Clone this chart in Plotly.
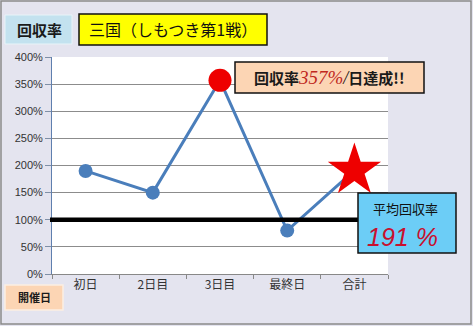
import plotly.graph_objects as go

# Recovery rate per race day (%)
days = ["初日", "2日目", "3日目", "最終日", "合計"]
rates = [190, 150, 357, 80, 191]
y_ticks = [0, 50, 100, 150, 200, 250, 300, 350, 400]
y_tick_text = ["0%", "50%", "100%", "150%", "200%", "250%", "300%", "350%", "400%"]
break_even = 100
best_day = "3日目"
best_rate = 357
total_label = "合計"
total_rate = 191

W, H = 473, 326
L, R, T, B = 52, 388, 57, 274  # plot area in pixels


def px(x):
    return (x - L) / (R - L)


def py(y):
    return (B - y) / (B - T)


JP = "Noto Sans CJK JP"
BLUE = "#4a7ebb"

fig = go.Figure()

# connecting line
fig.add_trace(go.Scatter(
    x=days, y=rates, mode="lines",
    line=dict(color=BLUE, width=3), hoverinfo="skip", showlegend=False,
))
# regular day markers
reg_days = [d for d in days if d not in (best_day, total_label)]
reg_rates = [r for d, r in zip(days, rates) if d not in (best_day, total_label)]
fig.add_trace(go.Scatter(
    x=reg_days, y=reg_rates, mode="markers",
    marker=dict(color=BLUE, size=14, line=dict(width=0)), showlegend=False,
))
# best day highlight
fig.add_trace(go.Scatter(
    x=[best_day], y=[best_rate], mode="markers",
    marker=dict(color="#ee0000", size=23, line=dict(width=0)), showlegend=False,
))
# total highlight
fig.add_trace(go.Scatter(
    x=[total_label], y=[total_rate], mode="markers",
    marker=dict(color="#ee0000", symbol="star", size=40, line=dict(width=0)),
    showlegend=False,
))

shapes = []
# outer frame
shapes.append(dict(type="rect", xref="paper", yref="paper",
                   x0=px(1), x1=px(471), y0=py(324), y1=py(1),
                   line=dict(color="#8a8a8a", width=1.5), layer="below"))
# break-even line at 100%
shapes.append(dict(type="line", xref="paper", yref="y",
                   x0=px(50), x1=1, y0=break_even, y1=break_even,
                   line=dict(color="black", width=4.5), layer="above"))


def box(x0, y0, x1, y1, fill, edge, ew=1.5):
    shapes.append(dict(type="rect", xref="paper", yref="paper",
                       x0=px(x0), x1=px(x1), y0=py(y1), y1=py(y0),
                       fillcolor=fill, line=dict(color=edge, width=ew), layer="above"))


box(5, 15, 72, 44, "#c3e2ef", "#e8f4f8", 1)
box(79, 14, 267, 45, "#ffff00", "#111111", 1.5)
box(235, 62, 424, 93, "#fcd5b4", "#111111", 1.5)
box(358, 193, 456, 253, "#6ccdf6", "#111111", 1.5)
box(5, 285, 63, 310, "#fcd5b4", "#fbeee2", 1.5)

annotations = []


def label(x, y, text, size, color="black", family=JP, xanchor="center"):
    annotations.append(dict(xref="paper", yref="paper", x=px(x), y=py(y),
                            text=text, showarrow=False, xanchor=xanchor,
                            yanchor="middle",
                            font=dict(size=size, color=color, family=family)))


label(39, 30, "<b>回収率</b>", 15, "#1a1a1a")
label(173, 29, "三国（しもつき第1戦）", 16, "#111111")
label(329, 77,
      "<b>回収率</b><i><span style='font-family:Liberation Serif;color:#c0281e;font-size:19px'>357%</span>"
      "<span style='font-family:Liberation Serif;font-size:18px'>/</span></i><b>日達成!!</b>",
      15, "#1a1a1a")
label(405, 208, "平均回収率", 13, "#111111")
label(402, 237, "<i>191 %</i>", 25, "#c8102e", family="Liberation Sans")
label(34, 297, "<b>開催日</b>", 11, "#1a1a1a")

fig.update_layout(
    width=W, height=H,
    margin=dict(l=L, r=W - R, t=T, b=H - B, pad=0),
    paper_bgcolor="#e4e4ef",
    plot_bgcolor="white",
    shapes=shapes,
    annotations=annotations,
    font=dict(family=JP, size=11, color="#333333"),
    xaxis=dict(
        type="category", categoryorder="array", categoryarray=days,
        range=[-0.5, len(days) - 0.5], tickson="boundaries",
        ticks="outside", ticklen=4, tickcolor="#888888",
        showline=True, linecolor="#888888", linewidth=1,
        showgrid=False, fixedrange=True,
        tickfont=dict(size=12, family=JP, color="#333333"),
    ),
    yaxis=dict(
        range=[0, 400], tickvals=y_ticks, ticktext=y_tick_text,
        ticks="outside", ticklen=6, tickcolor="#7f8fa6",
        showline=True, linecolor="#5f7fae", linewidth=1,
        showgrid=True, gridcolor="#8c8c8c", gridwidth=1,
        zeroline=False, fixedrange=True,
        tickfont=dict(size=11, family="Liberation Sans", color="#333333"),
    ),
)

fig.write_html("out.html", config={"displayModeBar": False})
